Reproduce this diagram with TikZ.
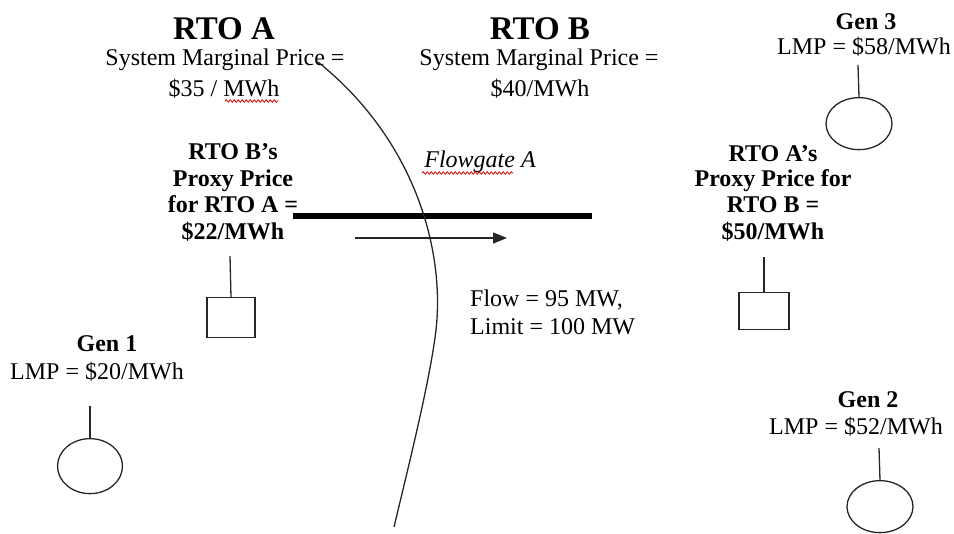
\documentclass[tikz,border=0pt]{standalone}
\usepackage{fontspec}
\setmainfont{Liberation Serif}
\usetikzlibrary{arrows.meta,decorations.pathmorphing,shapes.geometric}
\begin{document}
\begin{tikzpicture}[x=1pt,y=-1pt,
  txt/.style={anchor=base,inner sep=0pt,font=\fontsize{24}{28}\selectfont},
  btxt/.style={anchor=base,inner sep=0pt,font=\fontsize{24}{28}\selectfont\bfseries},
  ttl/.style={anchor=base,inner sep=0pt,font=\fontsize{33}{38}\selectfont\bfseries},
  itxt/.style={anchor=base,inner sep=0pt,font=\fontsize{24}{28}\selectfont\itshape},
  wire/.style={draw=black!85,line width=1.3pt},
  genbox/.style={draw=black!85,line width=1.3pt,ellipse,minimum width=66pt,minimum height=52pt,inner sep=0pt,anchor=north},
  loadbox/.style={draw=black!85,line width=1.3pt,rectangle,minimum width=48pt,minimum height=40pt,inner sep=0pt,anchor=north},
  squig/.style={draw=red!85!black,line width=0.8pt,decorate,decoration={snake,segment length=4pt,amplitude=1.2pt}}
]
\useasboundingbox (0,0) rectangle (954,534);

% RTO A
\node[ttl] (rtoa) at (224,40) {RTO A};
\node[txt] (smpa) at (225,66) {System Marginal Price =};
\node[txt] (pra) at (224,97) {\$35 / MWh};
\draw[squig] (225,101) -- (278,101);

% RTO B
\node[ttl] (rtob) at (540,40) {RTO B};
\node[txt] (smpb) at (539,66) {System Marginal Price =};
\node[txt] (prb) at (540,97) {\$40/MWh};

% Gen 3
\node[btxt] (g3) at (866,30) {Gen 3};
\node[txt] (g3l) at (864,55) {LMP = \$58/MWh};
\coordinate (g3t) at (858,65);
\node[genbox] (g3c) at (859,97) {};
\draw[wire] (g3t) -- (g3c.north);

% RTO B's proxy
\node[btxt] (pb1) at (233,160) {RTO B’s};
\node[btxt] (pb2) at (233,187) {Proxy Price};
\node[btxt] (pb3) at (233,213) {for RTO A =};
\node[btxt] (pb4) at (233,240) {\$22/MWh};
\coordinate (lbt) at (230,256);
\node[loadbox] (lb) at (231,297) {};
\draw[wire] (lbt) -- (lb.north);

% RTO A's proxy
\node[btxt] (pa1) at (773,162) {RTO A’s};
\node[btxt] (pa2) at (773,187) {Proxy Price for};
\node[btxt] (pa3) at (773,213) {RTO B =};
\node[btxt] (pa4) at (773,240) {\$50/MWh};
\coordinate (lat) at (764,257);
\node[loadbox,minimum height=37pt,minimum width=50pt] (la) at (764,292) {};
\draw[wire] (lat) -- (la.north);

% Flowgate
\node[itxt] (fg) at (480,168) {Flowgate A};
\draw[squig] (422,173) -- (513,173);
\coordinate (fgl) at (293,216);
\coordinate (fgr) at (592,216);
\draw[draw=black,line width=6pt] (fgl) -- (fgr);
\coordinate (fa1) at (355,238);
\coordinate (fa2) at (507,238);
\draw[wire,-{Triangle[length=14pt,width=11pt]}] (fa1) -- (fa2);

% Flow text
\node[txt,anchor=base west] (flow1) at (470,307) {Flow = 95 MW,};
\node[txt,anchor=base west] (flow2) at (470,335) {Limit = 100 MW};

% Seam curve
\coordinate (sa) at (318,62);
\coordinate (sb) at (436,330);
\coordinate (sc) at (394,527);
\draw[wire] (sa) .. controls (415,140) and (445,250) .. (sb)
                 .. controls (430,380) and (410,460) .. (sc);

% Gen 1
\node[btxt] (g1) at (107,352) {Gen 1};
\node[txt] (g1l) at (97,380) {LMP = \$20/MWh};
\coordinate (g1t) at (90,406);
\node[genbox,minimum width=65pt,minimum height=55pt] (g1c) at (90,438) {};
\draw[wire] (g1t) -- (g1c.north);

% Gen 2
\node[btxt] (g2) at (868,408) {Gen 2};
\node[txt] (g2l) at (856,435) {LMP = \$52/MWh};
\coordinate (g2t) at (879,448);
\node[genbox] (g2c) at (880,480) {};
\draw[wire] (g2t) -- (g2c.north);
\end{tikzpicture}
\end{document}
